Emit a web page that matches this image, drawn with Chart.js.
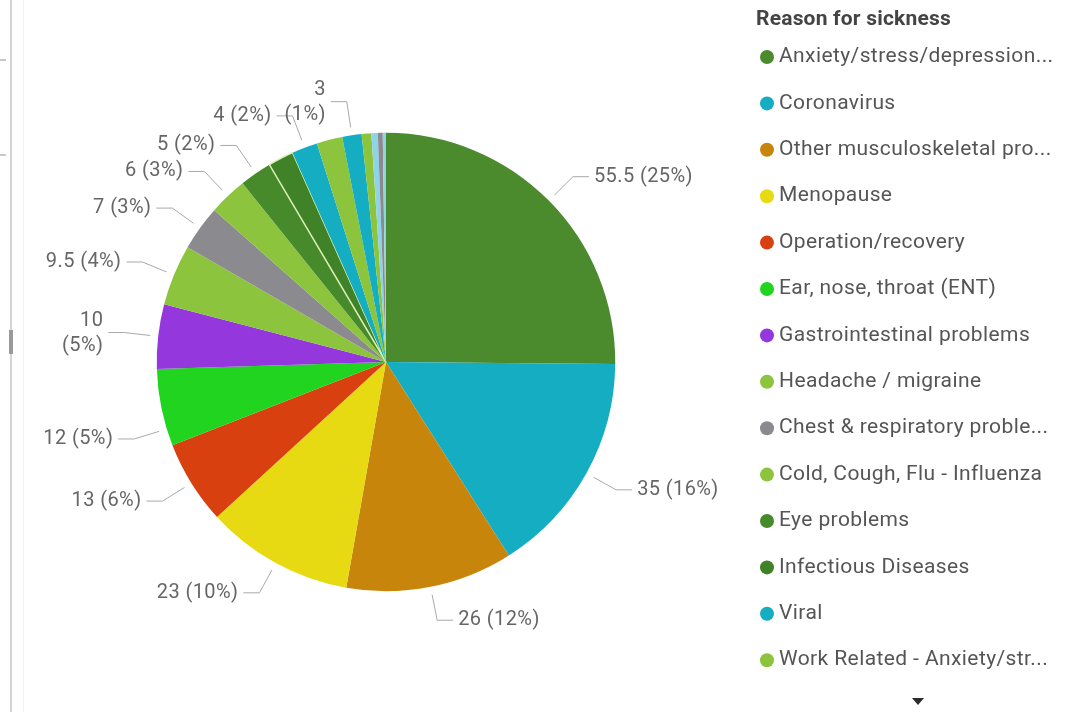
<!DOCTYPE html>
<html>
<head>
<meta charset="utf-8">
<script src="https://cdn.jsdelivr.net/npm/chart.js@4.4.1/dist/chart.umd.min.js"></script>
<style>
  html, body { margin: 0; padding: 0; background: #fff; }
  #wrap { position: relative; width: 1079px; height: 712px; overflow: hidden; }
  canvas { display: block; }
</style>
</head>
<body>
<div id="wrap"><canvas id="sickChart" width="1079" height="712"></canvas></div>
<script>
// sickness absence, days lost by reason
const reasons = [
  'Anxiety/stress/depression/other psychiatric illnesses',
  'Coronavirus',
  'Other musculoskeletal problems',
  'Menopause',
  'Operation/recovery',
  'Ear, nose, throat (ENT)',
  'Gastrointestinal problems',
  'Headache / migraine',
  'Chest & respiratory problems',
  'Cold, Cough, Flu - Influenza',
  'Eye problems',
  'Infectious Diseases',
  'Viral',
  'Work Related - Anxiety/stress/depression',
  'Back problems',
  'Dental and oral problems',
  'Injury, fracture',
  'Genitourinary & gynaecological disorders',
  'Pregnancy related disorders'
];
const days = [55.5, 35, 26, 23, 13, 12, 10, 9.5, 7, 6, 5, 4, 4, 4, 3, 1.5, 1, 0.75, 0.5];
const colours = [
  '#4b8a2d', '#14adc1', '#c7860b', '#e7d912', '#d9400f', '#20d41f', '#9437dd',
  '#8dc43d', '#8b8a8f', '#8dc43d', '#468a2b', '#3f8227', '#14adc1', '#8dc43d',
  '#14adc1', '#8dc43d', '#8ed3e6', '#8b8a8f', '#8ed3e6'
];
const legendTitle = 'Reason for sickness';
const legendRows = 14;             // the rest sit behind the scroll arrow

// slices whose data label is dropped for lack of room
const unlabelled = [11, 13, 15, 16, 17, 18];
// labels broken onto two lines
const wrapped = [6, 14];
// where along the slice the leader line is anchored (default middle)
const anchorAt = { 5: 0.22 };

const labelFont = '20px Roboto';
const labelColour = '#666666';
const leaderColour = '#a9a9a9';

const total = days.reduce((a, b) => a + b, 0);
const fmt = v => v + ' (' + Math.round(v / total * 100) + '%)';

const sliceLabels = {
  id: 'sliceLabels',
  afterDatasetsDraw(chart) {
    const ctx = chart.ctx;
    const meta = chart.getDatasetMeta(0);
    ctx.save();
    ctx.font = labelFont;
    ctx.letterSpacing = '0.4px';
    ctx.fillStyle = labelColour;
    ctx.strokeStyle = leaderColour;
    ctx.lineWidth = 1;
    ctx.textBaseline = 'middle';
    meta.data.forEach((arc, i) => {
      if (unlabelled.includes(i)) return;
      const p = arc.getProps(['x', 'y', 'startAngle', 'endAngle', 'outerRadius'], true);
      const f = anchorAt[i] !== undefined ? anchorAt[i] : 0.5;
      const a = p.startAngle + (p.endAngle - p.startAngle) * f;
      const cx = Math.cos(a), cy = Math.sin(a);
      const side = cx >= 0 ? 1 : -1;
      const x1 = p.x + cx * (p.outerRadius + 8), y1 = p.y + cy * (p.outerRadius + 8);
      const x2 = p.x + cx * (p.outerRadius + 34), y2 = p.y + cy * (p.outerRadius + 34);
      const x3 = x2 + side * 16;
      ctx.beginPath();
      ctx.moveTo(x1, y1);
      ctx.lineTo(x2, y2);
      ctx.lineTo(x3, y2);
      ctx.stroke();
      ctx.textAlign = side > 0 ? 'left' : 'right';
      const tx = x3 + side * 5;
      const text = fmt(days[i]);
      if (wrapped.includes(i)) {
        const parts = text.split(' ');
        ctx.fillText(parts[0], tx, y2 - 12);
        ctx.fillText(parts[1], tx, y2 + 13);
      } else {
        ctx.fillText(text, tx, y2);
      }
    });
    ctx.restore();
  }
};

function clip(ctx, text, maxW) {
  if (ctx.measureText(text).width <= maxW) return text;
  let t = text;
  while (t.length && ctx.measureText(t + '...').width > maxW) t = t.slice(0, -1);
  return t.trimEnd() + '...';
}

const sideLegend = {
  id: 'sideLegend',
  afterDraw(chart) {
    const ctx = chart.ctx;
    ctx.save();
    // frame edge of the visual
    ctx.fillStyle = '#d4d4d4';
    ctx.fillRect(10, 0, 2, 712);
    ctx.fillStyle = '#f1f1f1';
    ctx.fillRect(23, 0, 1, 712);
    ctx.fillStyle = '#9a9a9a';
    ctx.fillRect(9, 330, 4, 24);
    ctx.fillStyle = '#c8c8c8';
    ctx.fillRect(0, 59, 6, 2);
    ctx.fillRect(0, 154, 6, 2);

    ctx.textBaseline = 'middle';
    ctx.textAlign = 'left';
    ctx.font = 'bold 21px Roboto';
    ctx.letterSpacing = '0.2px';
    ctx.fillStyle = '#444444';
    ctx.fillText(legendTitle, 756, 20);

    ctx.font = '21px Roboto';
    ctx.letterSpacing = '0.4px';
    for (let i = 0; i < legendRows; i++) {
      const y = 57 + i * 46.4;
      ctx.beginPath();
      ctx.arc(767, y, 7, 0, Math.PI * 2);
      ctx.fillStyle = colours[i];
      ctx.fill();
      ctx.fillStyle = '#555555';
      ctx.fillText(clip(ctx, reasons[i], 276), 779, y);
    }
    // scroll arrow
    ctx.fillStyle = '#2b2b2b';
    ctx.beginPath();
    ctx.moveTo(912, 698);
    ctx.lineTo(924, 698);
    ctx.lineTo(918, 705);
    ctx.closePath();
    ctx.fill();
    ctx.restore();
  }
};

new Chart(document.getElementById('sickChart'), {
  type: 'pie',
  data: {
    labels: reasons,
    datasets: [{
      data: days,
      backgroundColor: colours,
      borderColor: days.map((d, i) => i === 11 ? '#d9efb4' : 'rgba(255,255,255,0)'),
      borderWidth: days.map((d, i) => i === 11 ? 1.5 : 0)
    }]
  },
  options: {
    responsive: false,
    animation: false,
    events: [],
    layout: { padding: { left: 156, top: 132, right: 463, bottom: 120 } },
    plugins: {
      legend: { display: false },
      tooltip: { enabled: false }
    }
  },
  plugins: [sliceLabels, sideLegend]
});
</script>
</body>
</html>
